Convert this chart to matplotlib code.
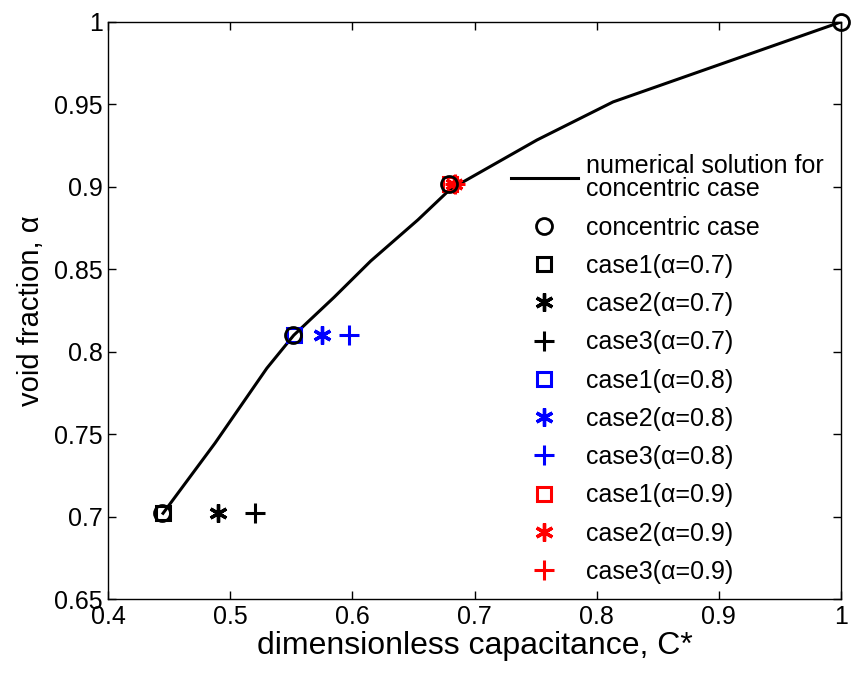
import matplotlib
matplotlib.use('Agg')
import matplotlib.pyplot as plt

plt.rcParams['font.family'] = ['Liberation Sans', 'DejaVu Sans']

# numerical solution for concentric case (C*, alpha)
c_line = [0.445, 0.4876, 0.530, 0.552, 0.585, 0.615, 0.6537, 0.680, 0.7511, 0.8134, 1.0]
a_line = [0.702, 0.7446, 0.790, 0.810, 0.833, 0.855, 0.880, 0.8985, 0.9284, 0.9515, 1.0]

# concentric case markers
c_conc = [0.444, 0.551, 0.679, 1.0]
a_conc = [0.702, 0.810, 0.902, 1.0]

alphas = [0.7, 0.8, 0.9]
a_pts = [0.702, 0.810, 0.902]
c_case1 = [0.445, 0.552, 0.680]
c_case2 = [0.490, 0.575, 0.683]
c_case3 = [0.520, 0.597, 0.684]
colors = ['k', 'b', 'r']

fig = plt.figure(figsize=(8.51, 6.78), dpi=100)
ax = fig.add_axes([0.127, 0.1165, 0.8612, 0.8511])

ax.plot(c_line, a_line, 'k-', lw=2.2, label='numerical solution for\nconcentric case')
ax.plot(c_conc, a_conc, 'ko', ls='none', ms=11.5, mfc='none', mew=2.0,
        clip_on=False, zorder=5, label='concentric case')

for i, al in enumerate(alphas):
    col = colors[i]
    ax.plot(c_case1[i], a_pts[i], 's', color=col, ms=10, mfc='none', mew=2.2,
            label='case1(α=%.1f)' % al)
    ax.plot(c_case2[i], a_pts[i], marker=(6, 2, 0), color=col, ms=13, mew=2.4, ls='none',
            label='case2(α=%.1f)' % al)
    ax.plot(c_case3[i], a_pts[i], '+', color=col, ms=15, mew=2.2, ls='none',
            label='case3(α=%.1f)' % al)

leg = ax.legend(loc='upper left', bbox_to_anchor=(0.5355, 0.789), frameon=False, fontsize=18,
                handlelength=2.7, handletextpad=0.32, labelspacing=0.57, borderaxespad=0)
leg.get_texts()[0].set_linespacing(0.98)

ax.set_xlim(0.4, 1.0)
ax.set_ylim(0.65, 1.0)
ax.set_xticks([0.4, 0.5, 0.6, 0.7, 0.8, 0.9, 1.0])
ax.set_xticklabels(['0.4', '0.5', '0.6', '0.7', '0.8', '0.9', '1'])
ax.set_yticks([0.65, 0.7, 0.75, 0.8, 0.85, 0.9, 0.95, 1.0])
ax.set_yticklabels(['0.65', '0.7', '0.75', '0.8', '0.85', '0.9', '0.95', '1'])
ax.tick_params(direction='in', top=True, right=True, length=6, width=1, labelsize=18, pad=4)
ax.set_xlabel('dimensionless capacitance, C*', fontsize=23, labelpad=2)
ax.set_ylabel('void fraction, α', fontsize=21, labelpad=6)
for s in ax.spines.values():
    s.set_linewidth(1)

fig.savefig('out.png', dpi=100)
